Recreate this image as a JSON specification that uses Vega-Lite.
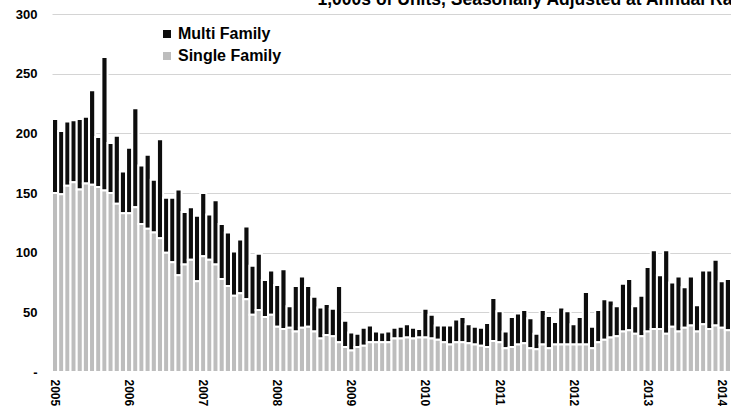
{
  "$schema": "https://vega.github.io/schema/vega-lite/v6.json",
  "width": 679,
  "height": 358,
  "autosize": {"type": "none"},
  "padding": {"left": 52, "top": 14, "right": 0, "bottom": 38},
  "background": "white",
  "config": {"view": {"stroke": null}, "font": "Liberation Sans"},
  "title": {"text": "1,000s of Units, Seasonally Adjusted at Annual Rate", "anchor": "end", "frame": "group", "fontSize": 17.5, "fontWeight": "bold", "color": "#000000", "baseline": "alphabetic", "offset": 2, "dx": 17, "dy": 16},
  "data": {"values": [
    {"month": "2005-01", "Single Family": 150, "Multi Family": 62},
    {"month": "2005-02", "Single Family": 149, "Multi Family": 53},
    {"month": "2005-03", "Single Family": 156, "Multi Family": 54},
    {"month": "2005-04", "Single Family": 159, "Multi Family": 52},
    {"month": "2005-05", "Single Family": 153, "Multi Family": 59},
    {"month": "2005-06", "Single Family": 158, "Multi Family": 56},
    {"month": "2005-07", "Single Family": 157, "Multi Family": 79},
    {"month": "2005-08", "Single Family": 155, "Multi Family": 42},
    {"month": "2005-09", "Single Family": 152, "Multi Family": 112},
    {"month": "2005-10", "Single Family": 150, "Multi Family": 42},
    {"month": "2005-11", "Single Family": 141, "Multi Family": 57},
    {"month": "2005-12", "Single Family": 133, "Multi Family": 35},
    {"month": "2006-01", "Single Family": 133, "Multi Family": 55},
    {"month": "2006-02", "Single Family": 138, "Multi Family": 83},
    {"month": "2006-03", "Single Family": 124, "Multi Family": 49},
    {"month": "2006-04", "Single Family": 120, "Multi Family": 62},
    {"month": "2006-05", "Single Family": 117, "Multi Family": 44},
    {"month": "2006-06", "Single Family": 112, "Multi Family": 83},
    {"month": "2006-07", "Single Family": 100, "Multi Family": 46},
    {"month": "2006-08", "Single Family": 92, "Multi Family": 54},
    {"month": "2006-09", "Single Family": 81, "Multi Family": 72},
    {"month": "2006-10", "Single Family": 90, "Multi Family": 44},
    {"month": "2006-11", "Single Family": 94, "Multi Family": 44},
    {"month": "2006-12", "Single Family": 76, "Multi Family": 55},
    {"month": "2007-01", "Single Family": 97, "Multi Family": 53},
    {"month": "2007-02", "Single Family": 94, "Multi Family": 38},
    {"month": "2007-03", "Single Family": 90, "Multi Family": 54},
    {"month": "2007-04", "Single Family": 78, "Multi Family": 46},
    {"month": "2007-05", "Single Family": 72, "Multi Family": 45},
    {"month": "2007-06", "Single Family": 64, "Multi Family": 37},
    {"month": "2007-07", "Single Family": 66, "Multi Family": 45},
    {"month": "2007-08", "Single Family": 61, "Multi Family": 61},
    {"month": "2007-09", "Single Family": 48, "Multi Family": 41},
    {"month": "2007-10", "Single Family": 52, "Multi Family": 47},
    {"month": "2007-11", "Single Family": 46, "Multi Family": 31},
    {"month": "2007-12", "Single Family": 48, "Multi Family": 37},
    {"month": "2008-01", "Single Family": 38, "Multi Family": 35},
    {"month": "2008-02", "Single Family": 36, "Multi Family": 50},
    {"month": "2008-03", "Single Family": 37, "Multi Family": 18},
    {"month": "2008-04", "Single Family": 34, "Multi Family": 38},
    {"month": "2008-05", "Single Family": 37, "Multi Family": 43},
    {"month": "2008-06", "Single Family": 38, "Multi Family": 34},
    {"month": "2008-07", "Single Family": 34, "Multi Family": 29},
    {"month": "2008-08", "Single Family": 28, "Multi Family": 26},
    {"month": "2008-09", "Single Family": 31, "Multi Family": 26},
    {"month": "2008-10", "Single Family": 30, "Multi Family": 23},
    {"month": "2008-11", "Single Family": 25, "Multi Family": 47},
    {"month": "2008-12", "Single Family": 21, "Multi Family": 22},
    {"month": "2009-01", "Single Family": 18, "Multi Family": 15},
    {"month": "2009-02", "Single Family": 21, "Multi Family": 11},
    {"month": "2009-03", "Single Family": 22, "Multi Family": 15},
    {"month": "2009-04", "Single Family": 25, "Multi Family": 14},
    {"month": "2009-05", "Single Family": 25, "Multi Family": 9},
    {"month": "2009-06", "Single Family": 25, "Multi Family": 8},
    {"month": "2009-07", "Single Family": 25, "Multi Family": 9},
    {"month": "2009-08", "Single Family": 28, "Multi Family": 9},
    {"month": "2009-09", "Single Family": 28, "Multi Family": 10},
    {"month": "2009-10", "Single Family": 29, "Multi Family": 11},
    {"month": "2009-11", "Single Family": 28, "Multi Family": 9},
    {"month": "2009-12", "Single Family": 29, "Multi Family": 7},
    {"month": "2010-01", "Single Family": 29, "Multi Family": 24},
    {"month": "2010-02", "Single Family": 28, "Multi Family": 20},
    {"month": "2010-03", "Single Family": 27, "Multi Family": 12},
    {"month": "2010-04", "Single Family": 25, "Multi Family": 14},
    {"month": "2010-05", "Single Family": 23, "Multi Family": 16},
    {"month": "2010-06", "Single Family": 25, "Multi Family": 19},
    {"month": "2010-07", "Single Family": 25, "Multi Family": 21},
    {"month": "2010-08", "Single Family": 24, "Multi Family": 16},
    {"month": "2010-09", "Single Family": 23, "Multi Family": 15},
    {"month": "2010-10", "Single Family": 22, "Multi Family": 15},
    {"month": "2010-11", "Single Family": 21, "Multi Family": 20},
    {"month": "2010-12", "Single Family": 26, "Multi Family": 36},
    {"month": "2011-01", "Single Family": 25, "Multi Family": 26},
    {"month": "2011-02", "Single Family": 20, "Multi Family": 14},
    {"month": "2011-03", "Single Family": 21, "Multi Family": 25},
    {"month": "2011-04", "Single Family": 23, "Multi Family": 26},
    {"month": "2011-05", "Single Family": 24, "Multi Family": 28},
    {"month": "2011-06", "Single Family": 20, "Multi Family": 25},
    {"month": "2011-07", "Single Family": 19, "Multi Family": 13},
    {"month": "2011-08", "Single Family": 23, "Multi Family": 29},
    {"month": "2011-09", "Single Family": 20, "Multi Family": 27},
    {"month": "2011-10", "Single Family": 23, "Multi Family": 19},
    {"month": "2011-11", "Single Family": 23, "Multi Family": 31},
    {"month": "2011-12", "Single Family": 23, "Multi Family": 28},
    {"month": "2012-01", "Single Family": 23, "Multi Family": 17},
    {"month": "2012-02", "Single Family": 23, "Multi Family": 23},
    {"month": "2012-03", "Single Family": 23, "Multi Family": 44},
    {"month": "2012-04", "Single Family": 20, "Multi Family": 18},
    {"month": "2012-05", "Single Family": 25, "Multi Family": 27},
    {"month": "2012-06", "Single Family": 27, "Multi Family": 34},
    {"month": "2012-07", "Single Family": 29, "Multi Family": 31},
    {"month": "2012-08", "Single Family": 30, "Multi Family": 25},
    {"month": "2012-09", "Single Family": 34, "Multi Family": 40},
    {"month": "2012-10", "Single Family": 35, "Multi Family": 43},
    {"month": "2012-11", "Single Family": 32, "Multi Family": 23},
    {"month": "2012-12", "Single Family": 30, "Multi Family": 34},
    {"month": "2013-01", "Single Family": 34, "Multi Family": 54},
    {"month": "2013-02", "Single Family": 36, "Multi Family": 66},
    {"month": "2013-03", "Single Family": 36, "Multi Family": 45},
    {"month": "2013-04", "Single Family": 32, "Multi Family": 70},
    {"month": "2013-05", "Single Family": 38, "Multi Family": 37},
    {"month": "2013-06", "Single Family": 34, "Multi Family": 46},
    {"month": "2013-07", "Single Family": 37, "Multi Family": 34},
    {"month": "2013-08", "Single Family": 39, "Multi Family": 41},
    {"month": "2013-09", "Single Family": 34, "Multi Family": 22},
    {"month": "2013-10", "Single Family": 40, "Multi Family": 45},
    {"month": "2013-11", "Single Family": 36, "Multi Family": 49},
    {"month": "2013-12", "Single Family": 39, "Multi Family": 55},
    {"month": "2014-01", "Single Family": 37, "Multi Family": 39},
    {"month": "2014-02", "Single Family": 35, "Multi Family": 43}
  ]},
  "transform": [{"fold": ["Multi Family", "Single Family"], "as": ["series", "units"]}],
  "mark": {"type": "bar", "stroke": "white", "strokeWidth": 2},
  "encoding": {
    "x": {
      "field": "month", "type": "ordinal",
      "scale": {"paddingInner": 0, "paddingOuter": 0},
      "axis": {
        "values": ["2005-01", "2006-01", "2007-01", "2008-01", "2009-01", "2010-01", "2011-01", "2012-01", "2013-01", "2014-01"],
        "labelExpr": "substring(datum.value, 0, 4)",
        "labelAngle": 90, "title": null, "ticks": false, "domain": false,
        "labelFontSize": 12, "labelFontWeight": "bold", "labelColor": "#000000", "labelPadding": 7
      }
    },
    "y": {
      "field": "units", "type": "quantitative", "stack": "zero",
      "scale": {"domain": [0, 300]},
      "axis": {
        "values": [0, 50, 100, 150, 200, 250, 300],
        "labelExpr": "datum.value == 0 ? '-\u00a0\u00a0' : datum.label",
        "title": null, "domain": false, "ticks": false, "labelPadding": 15,
        "labelFontSize": 13, "labelFontWeight": "bold", "labelColor": "#000000",
        "gridColor": "#d4d4d4", "gridWidth": 1
      }
    },
    "color": {
      "field": "series", "type": "nominal",
      "scale": {"domain": ["Multi Family", "Single Family"], "range": ["#0d0d0d", "#bdbdbd"]},
      "legend": {
        "title": null, "orient": "none", "legendX": 107, "legendY": 12, "padding": 0,
        "symbolType": "square", "symbolSize": 64, "symbolStrokeWidth": 0,
        "labelFontSize": 16, "labelFontWeight": "bold", "labelColor": "#000000",
        "labelOffset": 3, "rowPadding": 6
      }
    },
    "order": {"field": "series", "sort": "descending"}
  }
}
